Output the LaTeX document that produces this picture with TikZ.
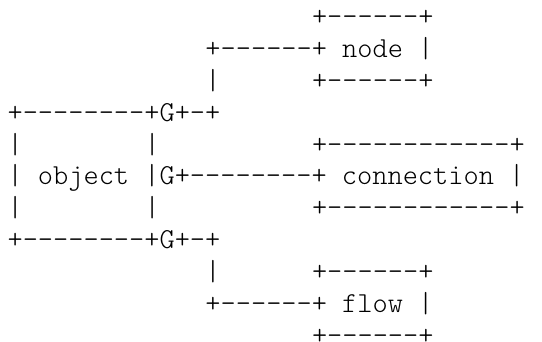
\documentclass[tikz,border=0pt]{standalone}
\begin{document}
\begin{tikzpicture}[x=1pt,y=1pt,
  ascii/.style={anchor=base west, inner sep=0pt, outer sep=0pt,
    font=\fontfamily{lmtt}\fontseries{l}\fontsize{28.95pt}{31.75pt}\selectfont, text=black}]
% canvas
\useasboundingbox[fill=white] (0,0) rectangle (542,-342);
% column c starts at 7.6 + 15.22 c ; row r baseline at -(y0 + 31.9 r)
\newcommand{\cx}[1]{7.6+15.22*#1}
\newcommand{\ry}[1]{-(25.5+31.9*#1)}
% node box
\node[ascii] (nodetop)  at ({\cx{20}},{\ry{0}}) {+------+};
\node[ascii] (nodemid)  at ({\cx{13}},{\ry{1}}) {+------+ node |};
\node[ascii] (nodelink) at ({\cx{13}},{\ry{2}}) {|};
\node[ascii] (nodebot)  at ({\cx{20}},{\ry{2}}) {+------+};
% object box with its three ports
\node[ascii] (objtop)   at ({\cx{0}},{\ry{3}}) {+--------+G+-+};
\node[ascii] (objl1)    at ({\cx{0}},{\ry{4}}) {|};
\node[ascii] (objr1)    at ({\cx{9}},{\ry{4}}) {|};
\node[ascii] (conntop)  at ({\cx{20}},{\ry{4}}) {+------------+};
\node[ascii] (objmid)   at ({\cx{0}},{\ry{5}}) {| object |G+--------+ connection |};
\node[ascii] (objl2)    at ({\cx{0}},{\ry{6}}) {|};
\node[ascii] (objr2)    at ({\cx{9}},{\ry{6}}) {|};
\node[ascii] (connbot)  at ({\cx{20}},{\ry{6}}) {+------------+};
\node[ascii] (objbot)   at ({\cx{0}},{\ry{7}}) {+--------+G+-+};
% flow box
\node[ascii] (flowlink) at ({\cx{13}},{\ry{8}}) {|};
\node[ascii] (flowtop)  at ({\cx{20}},{\ry{8}}) {+------+};
\node[ascii] (flowmid)  at ({\cx{13}},{\ry{9}}) {+------+ flow |};
\node[ascii] (flowbot)  at ({\cx{20}},{\ry{10}}) {+------+};
\end{tikzpicture}
\end{document}
